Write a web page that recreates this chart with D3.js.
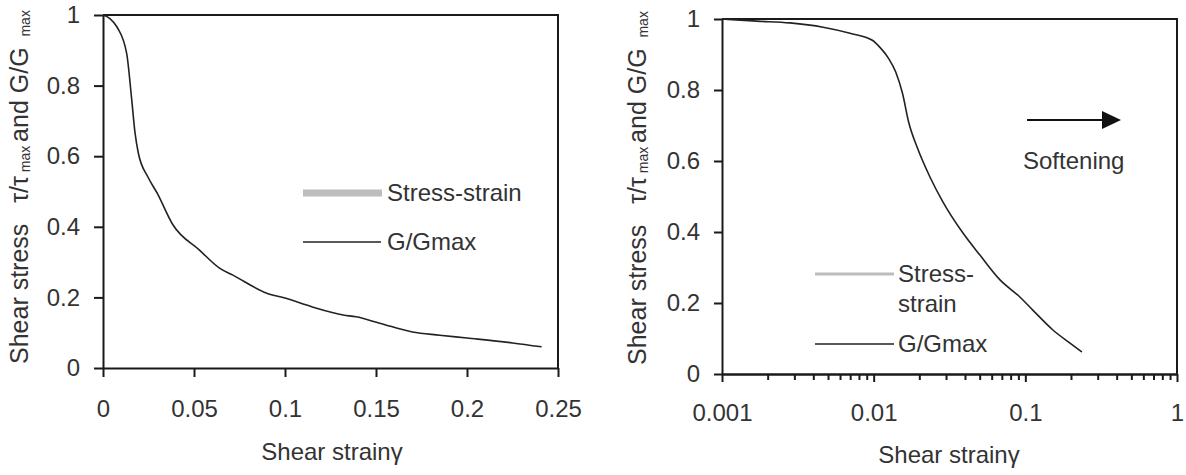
<!DOCTYPE html>
<html>
<head>
<meta charset="utf-8">
<script src="https://cdn.jsdelivr.net/npm/d3@7"></script>
<style>
    body { margin: 0; background: #fff; }
    svg { display: block; }
    text { font-family: "Liberation Sans", Arial, sans-serif; fill: #333; }
    .axis path, .axis line { stroke: #1a1a1a; stroke-width: 2; }
    .axis text { font-size: 24px; fill: #333; }
</style>
</head>
<body>
<svg id="chart" width="1186" height="475"></svg>
<script>
// Left panel: G/Gmax against linear shear strain
const strainLeft = [0, 0.0038, 0.0077, 0.013, 0.0158, 0.0176, 0.0194, 0.0247, 0.0297, 0.0385, 0.053, 0.064, 0.0714, 0.090, 0.100, 0.115, 0.132, 0.139, 0.152, 0.170, 0.185, 0.200, 0.225, 0.241];
const ggLeft = [1.0, 0.99, 0.966, 0.891, 0.759, 0.666, 0.609, 0.541, 0.496, 0.405, 0.334, 0.283, 0.263, 0.212, 0.198, 0.173, 0.150, 0.145, 0.127, 0.102, 0.093, 0.085, 0.071, 0.060];

// Right panel: G/Gmax against log shear strain
const strainRight = [0.001, 0.0017, 0.0028, 0.00464, 0.00698, 0.0098, 0.011, 0.0125, 0.014, 0.0155, 0.017, 0.0195, 0.0235, 0.0286, 0.0388, 0.0502, 0.0681, 0.092, 0.112, 0.152, 0.197, 0.236];
const ggRight = [1.0, 0.994, 0.989, 0.977, 0.96, 0.94, 0.92, 0.89, 0.85, 0.79, 0.71, 0.635, 0.555, 0.485, 0.397, 0.335, 0.265, 0.217, 0.180, 0.124, 0.087, 0.062];

// Tick values
const yTicks = [0, 0.2, 0.4, 0.6, 0.8, 1];
const xTicksLeft = [0, 0.05, 0.1, 0.15, 0.2, 0.25];
const xTicksRight = [0.001, 0.01, 0.1, 1];

const svg = d3.select('#chart');
svg.append('rect').attr('width', 1186).attr('height', 475).attr('fill', '#fff');

const fmt = d3.format('~g');

// Rotated y title with "max" subscripts
function yTitle(x, y) {
    const t = svg.append('text')
        .attr('transform', `translate(${x},${y}) rotate(-90)`)
        .style('white-space', 'pre')
        .attr('font-size', 25);
    t.append('tspan').text('Shear stress   τ/τ');
    t.append('tspan').attr('font-size', 14).attr('dy', 2).text(' max ');
    t.append('tspan').attr('dy', -2).text('and G/G ');
    t.append('tspan').attr('font-size', 14).attr('dy', 2).text(' max');
}

function frame(x, y) {
    const [x0, x1] = x.range();
    const [y0, y1] = y.range();
    svg.append('path')
        .attr('d', `M${x0},${y1}H${x1}V${y0}`)
        .attr('fill', 'none')
        .attr('stroke', '#1a1a1a')
        .attr('stroke-width', 2);
}

function curve(x, y, xs, ys) {
    const line = d3.line()
        .x(d => x(d[0]))
        .y(d => y(d[1]))
        .curve(d3.curveMonotoneX);
    svg.append('path')
        .datum(xs.map((v, i) => [v, ys[i]]))
        .attr('d', line)
        .attr('fill', 'none')
        .attr('stroke', '#222')
        .attr('stroke-width', 1.6);
}

// ---- Left panel ----
const xL = d3.scaleLinear().domain([0, 0.25]).range([103, 558]);
const yL = d3.scaleLinear().domain([0, 1]).range([368, 15]);

frame(xL, yL);

svg.append('g').attr('class', 'axis')
    .attr('transform', `translate(${xL(0)},0)`)
    .call(d3.axisLeft(yL).tickValues(yTicks).tickFormat(fmt).tickSize(9).tickPadding(14).tickSizeOuter(0));

svg.append('g').attr('class', 'axis')
    .attr('transform', `translate(0,${yL(0)})`)
    .call(d3.axisBottom(xL).tickValues(xTicksLeft).tickFormat(fmt).tickSize(9).tickPadding(23).tickSizeOuter(0));

curve(xL, yL, strainLeft, ggLeft);

yTitle(28, 364);

svg.append('text').attr('x', 332).attr('y', 460).attr('text-anchor', 'middle')
    .attr('font-size', 24).text('Shear strainγ');

// legend
svg.append('line').attr('x1', 303).attr('x2', 382).attr('y1', 193).attr('y2', 193)
    .attr('stroke', '#bdbdbd').attr('stroke-width', 7);
svg.append('text').attr('x', 387).attr('y', 201).attr('font-size', 24).text('Stress-strain');
svg.append('line').attr('x1', 303).attr('x2', 381).attr('y1', 242).attr('y2', 242)
    .attr('stroke', '#222').attr('stroke-width', 1.6);
svg.append('text').attr('x', 387).attr('y', 250).attr('font-size', 24).text('G/Gmax');

// ---- Right panel ----
const xR = d3.scaleLog().domain([0.001, 1]).range([722, 1177]);
const yR = d3.scaleLinear().domain([0, 1]).range([374, 19]);

frame(xR, yR);

svg.append('g').attr('class', 'axis')
    .attr('transform', `translate(${xR(0.001)},0)`)
    .call(d3.axisLeft(yR).tickValues(yTicks).tickFormat(fmt).tickSize(8).tickPadding(14).tickSizeOuter(0));

const minorTicks = [];
xTicksRight.slice(0, -1).forEach(d => {
    for (let k = 2; k <= 9; k++) minorTicks.push(d * k);
});

svg.append('g').attr('class', 'axis')
    .attr('transform', `translate(0,${yR(0)})`)
    .call(d3.axisBottom(xR).tickValues(minorTicks).tickFormat('').tickSize(6).tickSizeOuter(0));

svg.append('g').attr('class', 'axis')
    .attr('transform', `translate(0,${yR(0)})`)
    .call(d3.axisBottom(xR).tickValues(xTicksRight).tickFormat(fmt).tickSize(8).tickPadding(22).tickSizeOuter(0));

curve(xR, yR, strainRight, ggRight);

yTitle(646, 365);

svg.append('text').attr('x', 949).attr('y', 463).attr('text-anchor', 'middle')
    .attr('font-size', 24).text('Shear strainγ');

// legend
svg.append('line').attr('x1', 815).attr('x2', 894).attr('y1', 274).attr('y2', 274)
    .attr('stroke', '#bdbdbd').attr('stroke-width', 3);
svg.append('text').attr('x', 898).attr('y', 282).attr('font-size', 24).text('Stress-');
svg.append('text').attr('x', 898).attr('y', 312).attr('font-size', 24).text('strain');
svg.append('line').attr('x1', 815).attr('x2', 894).attr('y1', 344).attr('y2', 344)
    .attr('stroke', '#222').attr('stroke-width', 1.6);
svg.append('text').attr('x', 898).attr('y', 352).attr('font-size', 24).text('G/Gmax');

// softening arrow
svg.append('line').attr('x1', 1027).attr('x2', 1104).attr('y1', 120).attr('y2', 120)
    .attr('stroke', '#111').attr('stroke-width', 2);
svg.append('path').attr('d', 'M1102,111L1121,120L1102,129Z').attr('fill', '#111');
svg.append('text').attr('x', 1023).attr('y', 169).attr('font-size', 24).text('Softening');
</script>
</body>
</html>
